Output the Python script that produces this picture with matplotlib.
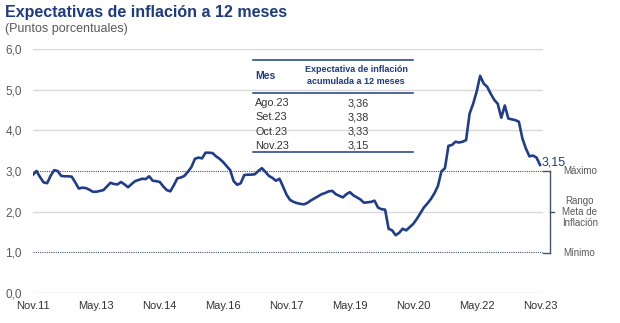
import matplotlib
matplotlib.use("Agg")
import matplotlib.pyplot as plt
from matplotlib.lines import Line2D

plt.rcParams['font.family'] = ['Liberation Sans', 'DejaVu Sans']

# expectativa de inflación a 12 meses, mensual, Nov.11 - Nov.23
expectativa = [
    2.91, 3.00, 2.85, 2.72, 2.70, 2.88, 3.02, 3.00, 2.88, 2.87,
    2.87, 2.86, 2.72, 2.57, 2.59, 2.58, 2.54, 2.49, 2.49, 2.51,
    2.53, 2.62, 2.71, 2.68, 2.67, 2.73, 2.67, 2.60, 2.68, 2.75,
    2.78, 2.81, 2.80, 2.87, 2.76, 2.75, 2.73, 2.62, 2.53, 2.50,
    2.65, 2.82, 2.84, 2.88, 2.98, 3.10, 3.30, 3.33, 3.31, 3.45,
    3.45, 3.44, 3.36, 3.30, 3.22, 3.12, 3.02, 2.75, 2.66, 2.70,
    2.90, 2.91, 2.91, 2.92, 3.00, 3.07, 2.98, 2.88, 2.83, 2.76,
    2.81, 2.62, 2.42, 2.29, 2.24, 2.21, 2.19, 2.18, 2.22, 2.28,
    2.33, 2.38, 2.43, 2.46, 2.50, 2.51, 2.43, 2.39, 2.35, 2.43,
    2.48, 2.40, 2.35, 2.30, 2.22, 2.23, 2.24, 2.27, 2.10, 2.06,
    2.05, 1.58, 1.54, 1.42, 1.48, 1.58, 1.54, 1.62, 1.70, 1.82,
    1.96, 2.10, 2.20, 2.31, 2.45, 2.63, 2.99, 3.07, 3.62, 3.64,
    3.72, 3.70, 3.72, 3.76, 4.41, 4.65, 4.95, 5.34, 5.15, 5.07,
    4.90, 4.75, 4.65, 4.31, 4.61, 4.29, 4.27, 4.25, 4.21, 3.80,
    3.55, 3.36, 3.38, 3.33, 3.15,
]
meses = list(range(len(expectativa)))
etiquetas_x = ["Nov.11", "May.13", "Nov.14", "May.16", "Nov.17",
               "May.19", "Nov.20", "May.22", "Nov.23"]
ticks_x = [18 * i for i in range(len(etiquetas_x))]
ticks_y = [0, 1, 2, 3, 4, 5, 6]
etiquetas_y = ["0,0", "1,0", "2,0", "3,0", "4,0", "5,0", "6,0"]
meta_min, meta_max = 1.0, 3.0

tabla_meses = ["Ago.23", "Set.23", "Oct.23", "Nov.23"]
tabla_valores = ["3,36", "3,38", "3,33", "3,15"]

AZUL = "#1f3d8a"
AZUL_T = "#1f3a80"
GRIS = "#595959"

W, H = 620, 323


def px(x, y):
    return x / W, 1 - y / H


fig = plt.figure(figsize=(6.2, 3.23), dpi=100)
ax = fig.add_axes([33 / W, 1 - 293 / H, 510 / W, 244 / H])

for v in [0, 2, 4, 5, 6]:
    ax.axhline(v, color="#d9d9d9", lw=1.0, zorder=1)
for v in [meta_min, meta_max]:
    ax.axhline(v, color="#44546a", lw=0.8, ls=(0, (1, 1)), zorder=1)

ax.plot(meses, expectativa, color=AZUL, lw=1.9, zorder=3)
ax.annotate("3,15", (meses[-1], expectativa[-1]), xytext=(1, 2),
            textcoords="offset points", color=AZUL_T, fontsize=9,
            va="center", ha="left", annotation_clip=False)

ax.set_xlim(0, 144.85)
ax.set_ylim(0, 6)
ax.set_xticks(ticks_x)
ax.set_xticklabels(etiquetas_x)
ax.set_yticks(ticks_y)
ax.set_yticklabels(etiquetas_y)
ax.tick_params(axis="x", length=0, pad=6, labelsize=8, labelcolor="#333333")
ax.tick_params(axis="y", length=0, pad=8, labelsize=8.5, labelcolor=GRIS)
for s in ax.spines.values():
    s.set_visible(False)

# titulo
fig.text(*px(5, 13), "Expectativas de inflación a 12 meses", fontsize=11.5,
         fontweight="bold", color=AZUL_T, va="center", ha="left")
fig.text(*px(5, 29), "(Puntos porcentuales)", fontsize=9, color=GRIS,
         va="center", ha="left")

# tabla
for yl in [59.5, 93.3, 152.3]:
    fig.add_artist(Line2D([253 / W, 413 / W], [1 - yl / H] * 2,
                          color=AZUL_T, lw=1.1))
fig.text(*px(255, 76), "Mes", fontsize=7.5, fontweight="bold", color=AZUL_T,
         va="center", ha="left")
fig.text(*px(356, 75.5), "Expectativa de inflación\nacumulada a 12 meses",
         fontsize=6.5, fontweight="bold", color=AZUL_T, va="center",
         ha="center", linespacing=1.3)
for i, (m, v) in enumerate(zip(tabla_meses, tabla_valores)):
    yy = 103.3 + i * 14.2
    fig.text(*px(255, yy), m, fontsize=7.8, color="#333333", va="center", ha="left")
    fig.text(*px(358, yy), v, fontsize=7.8, color="#333333", va="center", ha="center")

# rango meta
bx = 550
yt, yb = 171.3, 252.7
ym = (yt + yb) / 2
for seg in [([543, bx], [yt, yt]), ([bx, bx], [yt, yb]), ([543, bx], [yb, yb]),
            ([bx, bx + 4], [ym, ym])]:
    fig.add_artist(Line2D([s / W for s in seg[0]], [1 - s / H for s in seg[1]],
                          color="#44546a", lw=1.0))
fig.text(*px(563, yt), "Máximo", fontsize=7, color=GRIS, va="center", ha="left")
fig.text(*px(580, ym), "Rango\nMeta de\nInflación", fontsize=7, color=GRIS,
         va="center", ha="center", linespacing=1.15)
fig.text(*px(563, yb), "Mínimo", fontsize=7, color=GRIS, va="center", ha="left")

fig.savefig("out.png", dpi=100)
